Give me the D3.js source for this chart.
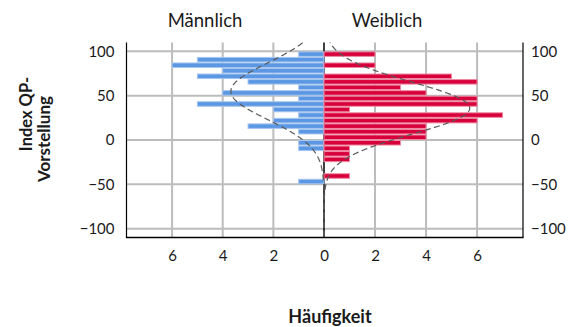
<!DOCTYPE html>
<html>
<head>
<meta charset="utf-8">
<script src="https://cdn.jsdelivr.net/npm/d3@7/dist/d3.min.js"></script>
<style>
  html, body { margin: 0; padding: 0; background: #fff; }
  svg { display: block; font-family: Lato, "Open Sans", sans-serif; }
</style>
</head>
<body>
<svg id="chart" width="569" height="327"></svg>
<script>
// Lower edge of each 6.25-wide class of "Index QP-Vorstellung", top to bottom
const binLower = [93.75, 87.5, 81.25, 75, 68.75, 62.5, 56.25, 50, 43.75, 37.5, 31.25, 25,
                  18.75, 12.5, 6.25, 0, -6.25, -12.5, -18.75, -25, -31.25, -37.5, -43.75, -50];
const binWidth = 6.25;

// Frequencies per class
const maleCounts   = [1, 5, 6, 4, 5, 3, 1, 4, 1, 5, 2, 1, 2, 3, 1, 0, 1, 1, 0, 0, 0, 0, 0, 1];
const femaleCounts = [2, 0, 2, 0, 5, 6, 3, 4, 6, 6, 1, 7, 6, 4, 4, 4, 3, 1, 1, 1, 0, 0, 1, 0];

const groupLabels = ["Männlich", "Weiblich"];
const yTicks = [100, 50, 0, -50, -100];
const xTicks = [0, 2, 4, 6];

const svg = d3.select("#chart");

const plot = { left: 126.5, center: 324, right: 523, top: 42.5, bottom: 237.5 };

const y = d3.scaleLinear().domain([-110, 110]).range([plot.bottom, plot.top]);
const xL = d3.scaleLinear().domain([7.8, 0]).range([plot.left, plot.center]);
const xR = d3.scaleLinear().domain([0, 7.8]).range([plot.center, plot.right]);

const gridColor = "#bcbcbc";

// Gridlines
const grid = svg.append("g");
grid.selectAll("line.h").data(yTicks).join("line")
  .attr("x1", plot.left).attr("x2", plot.right)
  .attr("y1", d => y(d)).attr("y2", d => y(d))
  .attr("stroke", gridColor).attr("stroke-width", 2);
[xL, xR].forEach(sc => {
  grid.selectAll(null).data(xTicks.filter(t => t > 0)).join("line")
    .attr("x1", d => sc(d)).attr("x2", d => sc(d))
    .attr("y1", plot.top).attr("y2", plot.bottom)
    .attr("stroke", gridColor).attr("stroke-width", 2);
});

// Shared zero line between the two panels
svg.append("line")
  .attr("x1", plot.center).attr("x2", plot.center)
  .attr("y1", plot.top).attr("y2", plot.bottom)
  .attr("stroke", "#000").attr("stroke-width", 1.5);

// Bars
const rows = binLower.map((lo, i) => ({ lo, hi: lo + binWidth, m: maleCounts[i], f: femaleCounts[i] }));

function drawBars(key, scale, fill, stroke) {
  svg.append("g").selectAll("rect")
    .data(rows.filter(r => r[key] > 0)).join("rect")
    .attr("x", r => Math.min(scale(0), scale(r[key])))
    .attr("width", r => Math.abs(scale(r[key]) - scale(0)))
    .attr("y", r => y(r.hi) + 0.5)
    .attr("height", r => y(r.lo) - y(r.hi) - 1)
    .attr("fill", fill)
    .attr("stroke", stroke).attr("stroke-width", 1);
}
drawBars("m", xL, "#5b97e2", "#a6c6f0");
drawBars("f", xR, "#d8003b", "#ee8aa3");

// Fitted normal curves
function normalCurve(counts) {
  const n = d3.sum(counts);
  const mids = binLower.map(lo => lo + binWidth / 2);
  const mean = d3.sum(counts.map((c, i) => c * mids[i])) / n;
  const sd = Math.sqrt(d3.sum(counts.map((c, i) => c * (mids[i] - mean) ** 2)) / (n - 1));
  return v => n * binWidth / (sd * Math.sqrt(2 * Math.PI)) * Math.exp(-0.5 * ((v - mean) / sd) ** 2);
}
const yDomain = y.domain();
const samples = d3.range(yDomain[0], yDomain[1] + 0.01, 0.5);
[[maleCounts, xL], [femaleCounts, xR]].forEach(([counts, sc]) => {
  const f = normalCurve(counts);
  svg.append("path")
    .datum(samples)
    .attr("d", d3.line().x(v => sc(f(v))).y(v => y(v)))
    .attr("fill", "none")
    .attr("stroke", "#5a5a5a")
    .attr("stroke-width", 1.2)
    .attr("stroke-dasharray", "6,3.5");
});

// Frame: outer vertical axes and bottom line
svg.append("line").attr("x1", plot.left).attr("x2", plot.left)
  .attr("y1", plot.top).attr("y2", plot.bottom).attr("stroke", "#000").attr("stroke-width", 1.2);
svg.append("line").attr("x1", plot.right).attr("x2", plot.right)
  .attr("y1", plot.top).attr("y2", plot.bottom).attr("stroke", "#000").attr("stroke-width", 1.2);
svg.append("line").attr("x1", plot.left - 0.6).attr("x2", plot.right + 0.6)
  .attr("y1", plot.bottom).attr("y2", plot.bottom).attr("stroke", "#000").attr("stroke-width", 1.6);

// Y axes (labels only, both sides)
const yAxisL = d3.axisLeft(y).tickValues(yTicks).tickSize(0).tickPadding(12);
const yAxisR = d3.axisRight(y).tickValues(yTicks).tickSize(0).tickPadding(8);
const gL = svg.append("g").attr("transform", `translate(${plot.left},0)`).call(yAxisL);
const gR = svg.append("g").attr("transform", `translate(${plot.right},0)`).call(yAxisR);

// X axes: counts mirrored around zero
const gxL = svg.append("g").attr("transform", `translate(0,${plot.bottom})`)
  .call(d3.axisBottom(xL).tickValues(xTicks.filter(t => t > 0)).tickSize(0).tickPadding(13));
const gxR = svg.append("g").attr("transform", `translate(0,${plot.bottom})`)
  .call(d3.axisBottom(xR).tickValues(xTicks).tickSize(0).tickPadding(13));

[gL, gR, gxL, gxR].forEach(g => {
  g.select(".domain").remove();
  g.selectAll("text").attr("font-size", 15).attr("fill", "#1a1a1a")
    .attr("font-family", "Lato, 'Open Sans', sans-serif");
});

// Group titles
svg.append("text").attr("x", 205).attr("y", 27).attr("text-anchor", "middle")
  .attr("font-size", 18.5).attr("fill", "#1a1a1a").text(groupLabels[0]);
svg.append("text").attr("x", 387).attr("y", 27).attr("text-anchor", "middle")
  .attr("font-size", 18.5).attr("fill", "#1a1a1a").text(groupLabels[1]);

// Axis titles
svg.append("text").attr("x", 330).attr("y", 323).attr("text-anchor", "middle")
  .attr("font-size", 18).attr("font-weight", "bold").attr("fill", "#1a1a1a").text("Häufigkeit");

const yt = svg.append("g");
yt.append("text").attr("transform", "translate(32,114) rotate(-90)")
  .attr("text-anchor", "middle").attr("font-size", 16.5).attr("font-weight", "bold")
  .attr("fill", "#1a1a1a").text("Index QP-");
yt.append("text").attr("transform", "translate(50,139) rotate(-90)")
  .attr("text-anchor", "middle").attr("font-size", 17).attr("font-weight", "bold")
  .attr("fill", "#1a1a1a").text("Vorstellung");
</script>
</body>
</html>
